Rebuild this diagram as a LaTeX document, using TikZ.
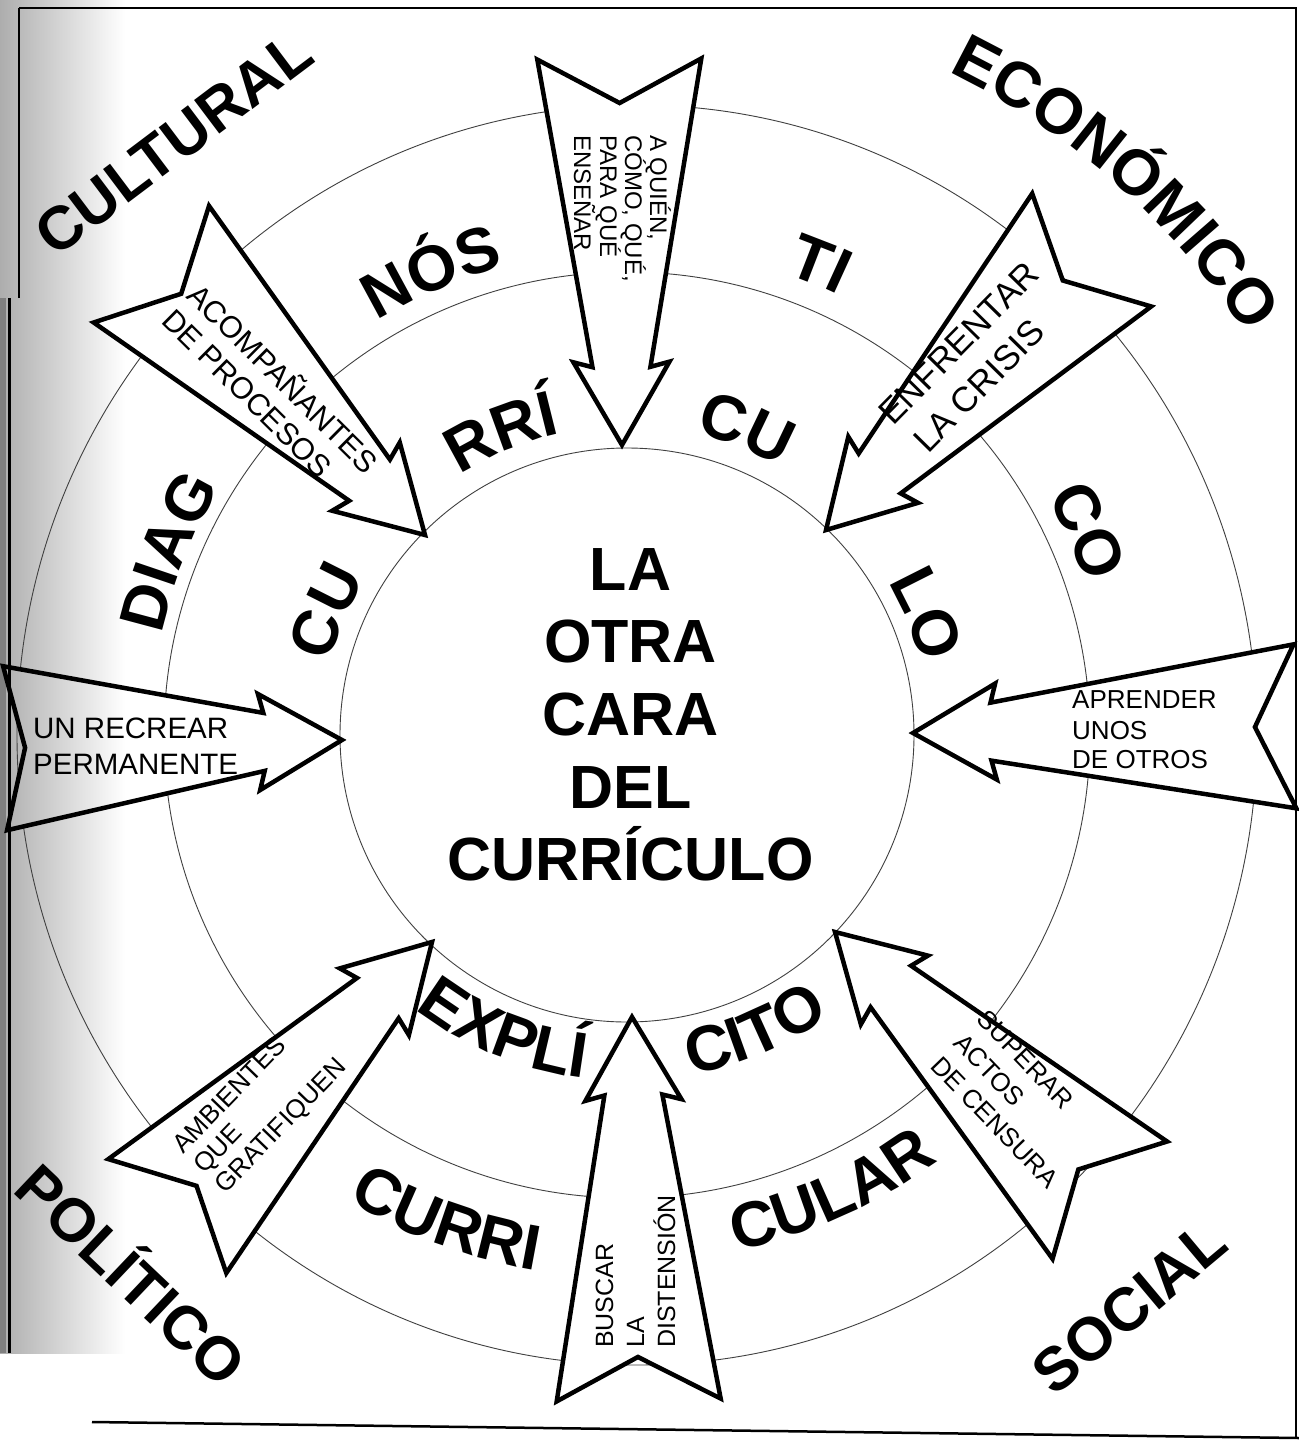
\documentclass[tikz,border=0pt]{standalone}
\usepackage{fontspec}
\setmainfont{Liberation Sans}
\usetikzlibrary{decorations.text}
\newcommand\wordfont{\fontsize{64pt}{64pt}\selectfont\bfseries}
\newcommand\cornerfont{\fontsize{61pt}{61pt}\selectfont\bfseries}
\newcommand\titlefont{\fontsize{61pt}{61pt}\selectfont\bfseries}
\tikzset{
  ringline/.style={draw=black!75, line width=0.9pt},
  arrowline/.style={draw=black, line width=4.5pt, line join=miter, fill=white},
  frameline/.style={draw=black, line width=2.5pt},
  atext/.style={anchor=base west, inner sep=0pt, font=\fontsize{#1}{#1}\selectfont},
  title/.style={anchor=base, inner sep=0pt, font=\titlefont},
  corner/.style={anchor=base, inner sep=0pt, font=\cornerfont},
}
% clockwise arc text (letters' tops outward)
\newcommand\cwtext[3]{%
  \path[decorate,decoration={text along path,text={|\wordfont|#3},text align=center}]
    (627,-735) ++({#2+60}:#1) arc[start angle={#2+60},end angle={#2-60},radius=#1];}
% counter-clockwise arc text (letters' tops inward)
\newcommand\ccwtext[3]{%
  \path[decorate,decoration={text along path,text={|\wordfont|#3},text align=center}]
    (627,-735) ++({#2-60}:#1) arc[start angle={#2-60},end angle={#2+60},radius=#1];}
% notched arrow: tip x, tip y (image), axis angle (tip->tail), length, notch depth
\newcommand\notcharrow[5]{%
  \begin{scope}[shift={(#1,-#2)},rotate=#3]
    \draw[arrowline] (0,0) -- (83,48) -- (78,29) -- (#4,82) -- ({#4-#5},0)
      -- (#4,-82) -- (78,-29) -- (83,-48) -- cycle;
  \end{scope}}
\newcommand\leftarrowpath{(342,-740) -- (260.2,-790) -- (264.7,-770.9) -- (7.1,-830.2)
  -- (25.1,-747.7) -- (3.1,-666.2) -- (263.3,-712.9) -- (257.9,-694) -- cycle}
\begin{document}
\begin{tikzpicture}[x=1pt,y=1pt]
\useasboundingbox (0,0) rectangle (1299,-1449);
\fill[white] (0,0) rectangle (1299,-1449);
% scan shadow on the left edge
\shade[left color=black!32, right color=white] (0,0) rectangle (125,-1353);
\fill[black!50] (0,-298) rectangle (6,-1353);

% concentric rings
\draw[ringline] (627,-735) circle[radius=287];
\draw[ringline] (627,-735) circle[radius=463];
\draw[ringline] (637,-735) ellipse[x radius=620, y radius=630];

% ring words
\cwtext{305}{157.6}{CU}
\cwtext{309}{112.5}{RRÍ}
\cwtext{309}{68.7}{CU}
\cwtext{303}{22}{LO}
\ccwtext{346}{247.6}{EXPLÍ}
\ccwtext{346}{293.3}{CITO}
\cwtext{476}{158.2}{DIAG}
\cwtext{484}{112.9}{NÓS}
\cwtext{488}{67.7}{TI}
\cwtext{483}{23.9}{CO}
\ccwtext{543}{249.7}{CURRI}
\ccwtext{527}{294.1}{CULAR}
\cwtext{737}{48.5}{ECONÓMICO}

% arrows
\notcharrow{622}{445}{90.4}{386}{44}
\notcharrow{826}{530}{46.5}{386}{42}
\notcharrow{913}{733}{1.0}{382}{40}
\notcharrow{835}{932}{-44.3}{384}{44}
\notcharrow{632}{1017}{-89.0}{383}{43}
\notcharrow{432}{942}{226}{381}{42}
\notcharrow{425}{535}{135.3}{385}{42}
\fill[white] \leftarrowpath;
\begin{scope}
  \clip \leftarrowpath;
  \shade[left color=black!32, right color=white] (0,0) rectangle (125,-1353);
\end{scope}
\draw[arrowline, fill=none] \leftarrowpath;

% arrow texts
\node[atext=24pt, rotate=-90] (q1) at (650,-135) {A QUIÉN,};
\node[atext=24pt, rotate=-90] (q2) at (625,-135) {CÓMO, QUÉ,};
\node[atext=24pt, rotate=-90] (q3) at (600,-135) {PARA QUÉ};
\node[atext=24pt, rotate=-90] (q4) at (574,-135) {ENSEÑAR};

\node[atext=30.5pt, rotate=-44.7] (a1) at (185,-297) {ACOMPAÑANTES};
\node[atext=30.5pt, rotate=-44.7] (a2) at (160,-322) {DE PROCESOS};

\node[atext=35pt, rotate=45.5] (e1) at (893,-427) {ENFRENTAR};
\node[atext=35pt, rotate=45.5] (e2) at (928,-455) {LA CRISIS};

\node[atext=26pt, rotate=46] (g1) at (183,-1155) {AMBIENTES};
\node[atext=26pt, rotate=46] (g2) at (204,-1175) {QUE};
\node[atext=26pt, rotate=46] (g3) at (225,-1195) {GRATIFIQUEN};

\node[atext=26pt, rotate=-46] (s1) at (975,-1020) {SUPERAR};
\node[atext=26pt, rotate=-46] (s2) at (952,-1044) {ACTOS};
\node[atext=26pt, rotate=-46] (s3) at (929,-1067) {DE CENSURA};

\node[atext=25pt, rotate=90] (b1) at (613,-1348) {BUSCAR};
\node[atext=25pt, rotate=90] (b2) at (644,-1348) {LA};
\node[atext=25pt, rotate=90] (b3) at (675,-1348) {DISTENSIÓN};

\node[atext=29.5pt] (r1) at (33,-738) {UN RECREAR};
\node[atext=29.5pt] (r2) at (33,-774) {PERMANENTE};

\node[atext=26pt] (p1) at (1072,-708) {APRENDER};
\node[atext=26pt] (p2) at (1072,-739) {UNOS};
\node[atext=26pt] (p3) at (1072,-768) {DE OTROS};

% centre title
\node[title] (t1) at (630.5,-590) {LA};
\node[title] (t2) at (630.5,-662) {OTRA};
\node[title] (t3) at (630.5,-735) {CARA};
\node[title] (t4) at (630.5,-808) {DEL};
\node[title] (t5) at (630.5,-880) {CURRÍCULO};

% corner words
\node[corner, rotate=37] (cultural) at (186,-160) {CULTURAL};
\node[corner, rotate=-43.5] (politico) at (116,-1291) {POLÍTICO};
\node[corner, rotate=40] (social) at (1143,-1323) {SOCIAL};

% frame
\draw[frameline] (19,-8) -- (1297,-8);
\draw[frameline] (1296,-7) -- (1296,-1438);
\draw[frameline] (92,-1422) -- (1299,-1438);
\draw[black, line width=1.5pt] (19,-8) -- (19,-298);
\draw[black, line width=3pt] (9,-298) -- (9,-1353);
\end{tikzpicture}
\end{document}
